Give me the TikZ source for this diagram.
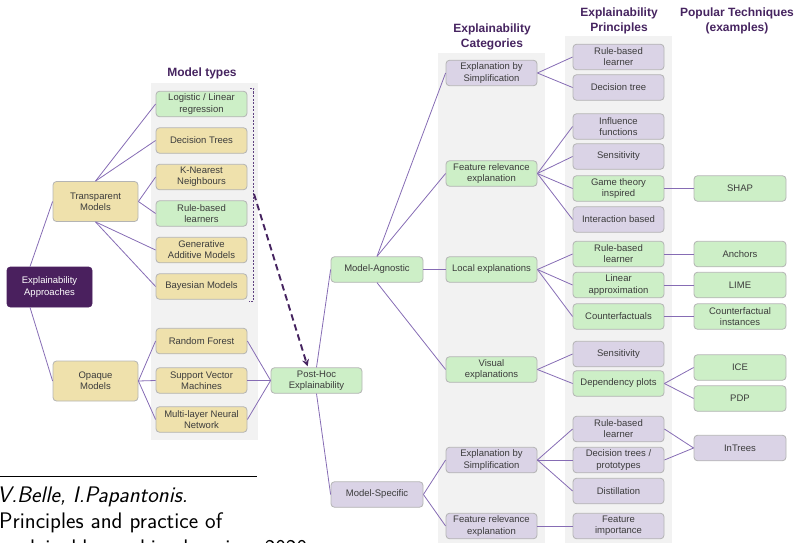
\documentclass[tikz,border=0pt]{standalone}
\usepackage{fontspec}
\setmainfont{Liberation Sans}
\usetikzlibrary{calc,arrows.meta}
\definecolor{hdr}{RGB}{70,36,96}
\definecolor{brk}{RGB}{96,66,130}
\definecolor{darkfill}{RGB}{74,32,94}
\definecolor{gfill}{RGB}{205,239,199}
\definecolor{yfill}{RGB}{239,225,172}
\definecolor{pfill}{RGB}{218,211,230}
\definecolor{bord}{RGB}{180,180,180}
\definecolor{linec}{RGB}{134,108,180}
\definecolor{panel}{RGB}{242,242,242}
\definecolor{txt}{RGB}{60,60,60}
\begin{document}
\begin{tikzpicture}[x=1pt,y=-1pt,
  box/.style={draw=bord, line width=0.8pt, rounded corners=3.5pt, align=center, inner sep=0pt,
    font=\fontsize{9.5}{11.2}\selectfont, text=txt, minimum width=91pt, minimum height=25.5pt},
  gbox/.style={box, fill=gfill},
  ybox/.style={box, fill=yfill},
  pbox/.style={box, fill=pfill},
  bigbox/.style={minimum width=85pt, minimum height=40pt},
  conn/.style={draw=linec, line width=0.8pt},
  hdrtext/.style={font=\fontsize{12}{15}\selectfont\bfseries, text=hdr, align=center, inner sep=0pt},
  bracket/.style={draw=brk, line width=0.8pt, dash pattern=on 2.2pt off 1.3pt},
  bigarrow/.style={draw=hdr, line width=1.9pt, dash pattern=on 6.5pt off 4pt, -{Stealth[length=7pt,width=7pt]}},
  foot/.style={anchor=base west, inner sep=0pt, font=\sffamily\fontsize{22.5}{28}\selectfont}
]
\useasboundingbox (0,0) rectangle (798,543);
\clip (0,0) rectangle (798,543);
% panels
\fill[panel] (151,83) rectangle (258,440);
\fill[panel] (438,53) rectangle (545,543);
\fill[panel] (565,36) rectangle (672,543);
% headers
\node[hdrtext] (hmt) at (202,73) {Model types};
\node[hdrtext] (hcat) at (492,36.5) {Explainability\\Categories};
\node[hdrtext] (hpri) at (619,20.5) {Explainability\\Principles};
\node[hdrtext] (htec) at (737,20.5) {Popular Techniques\\(examples)};
% left
\node[box, bigbox, fill=darkfill, draw=darkfill, text=white] (appr) at (49.5,287) {Explainability\\Approaches};
\node[ybox, bigbox] (transp) at (95.5,201.5) {Transparent\\Models};
\node[ybox, bigbox] (opaque) at (95.5,381) {Opaque\\Models};
% model types
\node[gbox] (logreg) at (201.5,104) {Logistic / Linear\\regression};
\node[ybox] (dtrees) at (201.5,140.5) {Decision Trees};
\node[ybox] (knn) at (201.5,177) {K-Nearest\\Neighbours};
\node[gbox] (rbl) at (201.5,213.5) {Rule-based\\learners};
\node[ybox] (gam) at (201.5,250) {Generative\\Additive Models};
\node[ybox] (bayes) at (201.5,286.5) {Bayesian Models};
\node[ybox] (rf) at (201.5,341) {Random Forest};
\node[ybox] (svm) at (201.5,380.5) {Support Vector\\Machines};
\node[ybox] (mlnn) at (201.5,419.5) {Multi-layer Neural\\Network};
% post-hoc
\node[gbox] (posthoc) at (316.5,380.5) {Post-Hoc\\Explainability};
\node[gbox, minimum width=92pt] (ma) at (377,269.5) {Model-Agnostic};
\node[pbox, minimum width=92pt] (ms) at (377,494.5) {Model-Specific};
% categories
\node[pbox] (ebsa) at (491.5,73) {Explanation by\\Simplification};
\node[gbox] (frea) at (491.5,173.5) {Feature relevance\\explanation};
\node[gbox] (local) at (491.5,269.5) {Local explanations};
\node[gbox] (visual) at (491.5,369.5) {Visual\\explanations};
\node[pbox] (ebsb) at (491.5,460) {Explanation by\\Simplification};
\node[pbox] (freb) at (491.5,526) {Feature relevance\\explanation};
% principles
\node[pbox] (prbla) at (618.5,57) {Rule-based\\learner};
\node[pbox] (pdt) at (618.5,87.5) {Decision tree};
\node[pbox] (pinf) at (618.5,126.5) {Influence\\functions};
\node[pbox] (psensa) at (618.5,156.5) {Sensitivity};
\node[gbox] (pgame) at (618.5,188.5) {Game theory\\inspired};
\node[pbox] (pinter) at (618.5,219.5) {Interaction based};
\node[gbox] (prblb) at (618.5,254) {Rule-based\\learner};
\node[gbox] (plin) at (618.5,285) {Linear\\approximation};
\node[gbox] (pcf) at (618.5,316.5) {Counterfactuals};
\node[pbox] (psensb) at (618.5,354) {Sensitivity};
\node[gbox] (pdep) at (618.5,383.5) {Dependency plots};
\node[pbox] (prblc) at (618.5,429) {Rule-based\\learner};
\node[pbox] (pdtp) at (618.5,460) {Decision trees /\\prototypes};
\node[pbox] (pdist) at (618.5,491) {Distillation};
\node[pbox] (pfi) at (618.5,526) {Feature\\importance};
% techniques
\node[gbox, minimum width=92pt] (shap) at (740,188.5) {SHAP};
\node[gbox, minimum width=92pt] (anchors) at (740,254) {Anchors};
\node[gbox, minimum width=92pt] (lime) at (740,285) {LIME};
\node[gbox, minimum width=92pt] (cfi) at (740,316.5) {Counterfactual\\instances};
\node[gbox, minimum width=92pt] (ice) at (740,367.5) {ICE};
\node[gbox, minimum width=92pt] (pdp) at (740,398.5) {PDP};
\node[pbox, minimum width=92pt] (intrees) at (740,448) {InTrees};
% connectors
\draw[conn] ($(appr.north)+(-19.5,0)$) -- (transp.west);
\draw[conn] ($(appr.south)+(-19.5,0)$) -- (opaque.west);
\draw[conn] (transp.north) -- (logreg.west);
\draw[conn] (transp.north) -- (dtrees.west);
\draw[conn] (transp.east) -- (knn.west);
\draw[conn] (transp.east) -- (rbl.west);
\draw[conn] (transp.south) -- (gam.west);
\draw[conn] (transp.south) -- (bayes.west);
\foreach \n in {rf,svm,mlnn}{
  \draw[conn] (opaque.east) -- (\n.west);
  \draw[conn] (\n.east) -- (posthoc.west);
}
\draw[conn] (posthoc.north) -- (ma.west);
\draw[conn] (posthoc.south) -- (ms.west);
\draw[conn] (ma.north) -- (ebsa.west);
\draw[conn] (ma.north) -- (frea.west);
\draw[conn] (ma.east) -- (local.west);
\draw[conn] (ma.south) -- (visual.west);
\draw[conn] (ms.east) -- (ebsb.west);
\draw[conn] (ms.east) -- (freb.west);
\draw[conn] (ebsa.east) -- (prbla.west);
\draw[conn] (ebsa.east) -- (pdt.west);
\foreach \n in {pinf,psensa,pgame,pinter}{\draw[conn] (frea.east) -- (\n.west);}
\foreach \n in {prblb,plin,pcf}{\draw[conn] (local.east) -- (\n.west);}
\foreach \n in {psensb,pdep}{\draw[conn] (visual.east) -- (\n.west);}
\foreach \n in {prblc,pdtp,pdist}{\draw[conn] (ebsb.east) -- (\n.west);}
\draw[conn] (freb.east) -- (pfi.west);
\draw[conn] (pgame.east) -- (shap.west);
\draw[conn] (prblb.east) -- (anchors.west);
\draw[conn] (plin.east) -- (lime.west);
\draw[conn] (pcf.east) -- (cfi.west);
\draw[conn] (pdep.east) -- (ice.west);
\draw[conn] (pdep.east) -- (pdp.west);
\draw[conn] (prblc.east) -- (intrees.west);
\draw[conn] (pdtp.east) -- (intrees.west);
% bracket and dashed arrow
\draw[bracket] (250,88) -- (253.5,88) -- (253.5,301) -- (249,301);
\coordinate (astart) at (254,194);
\draw[bigarrow] (astart) -- ($(posthoc.north west)+(37,-1)$);
% footer
\draw[line width=0.9pt] (0,476) -- (257,476);
\node[foot, font=\sffamily\itshape\fontsize{22.5}{28}\selectfont] (fa) at (-3,502) {V.Belle, I.Papantonis.};
\node[foot] (fb) at (-1,528) {Principles and practice of};
\node[foot] (fc) at (0,555) {explainable machine learning, 2020};
\end{tikzpicture}
\end{document}
